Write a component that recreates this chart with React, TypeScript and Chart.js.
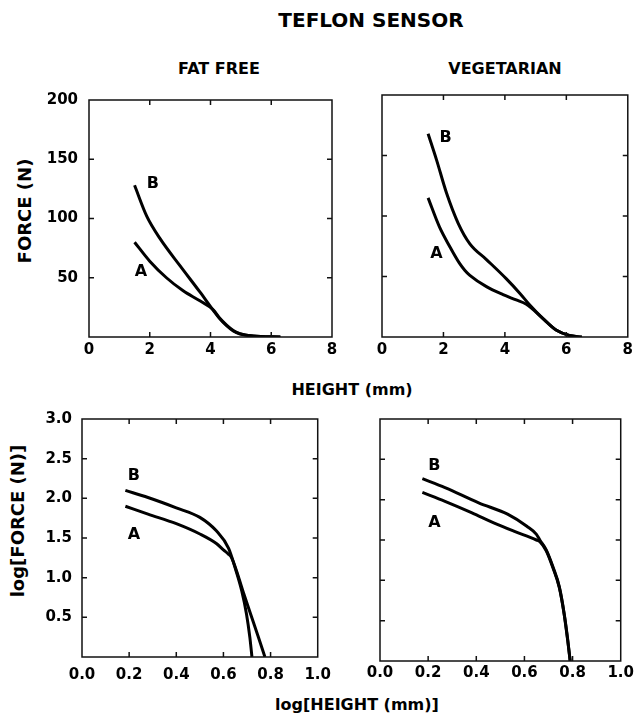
import React, { useEffect, useRef } from "react";
import { Chart, registerables } from "chart.js";

Chart.register(...registerables);

const FONT = "'DejaVu Sans', 'Liberation Sans', sans-serif";

// ---- tick labels ----
const heightTicks = [0, 2, 4, 6, 8];
const forceTicks = [0, 50, 100, 150, 200];
const logHeightTicks = [0, 0.2, 0.4, 0.6, 0.8, 1.0];
const logForceTicks = [0, 0.5, 1.0, 1.5, 2.0, 2.5, 3.0];

// ---- FAT FREE, linear (height mm, force N) ----
const fatFreeA_h = [1.5, 2.0, 2.55, 3.1, 3.65, 4.09, 4.3, 4.53, 4.75, 4.97, 5.4, 6.3];
const fatFreeA_f = [80, 64, 50, 39, 30.5, 23, 16, 10, 5.5, 2.8, 0.9, 0];
const fatFreeB_h = [1.5, 1.9, 2.34, 3.0, 3.65, 4.09, 4.3, 4.53, 4.75, 4.97, 5.4, 6.3];
const fatFreeB_f = [128, 102, 83, 60, 38, 22.5, 15.5, 9.5, 5, 2.5, 0.8, 0];

// ---- VEGETARIAN, linear ----
const vegA_h = [1.5, 1.87, 2.2, 2.52, 2.7, 2.86, 3.4, 3.94, 4.37, 4.7, 5.25, 5.68, 6.1, 6.5];
const vegA_f = [115, 91, 75, 61, 55, 51, 41.6, 35, 30.6, 27, 15, 5.5, 1.2, 0];
const vegB_h = [1.5, 1.78, 2.1, 2.48, 2.86, 3.4, 4.05, 4.49, 4.81, 5.25, 5.68, 6.1, 6.5];
const vegB_f = [168, 146, 119, 94, 77, 64, 48, 36, 26.5, 15, 5.5, 1.2, 0];

// ---- FAT FREE, log-log ----
const fatFreeA_logH = [0.184, 0.28, 0.4, 0.5, 0.57, 0.6, 0.62, 0.635, 0.685, 0.712, 0.746, 0.776];
const fatFreeA_logF = [1.9, 1.8, 1.68, 1.55, 1.43, 1.35, 1.3, 1.25, 0.81, 0.57, 0.27, 0];
const fatFreeB_logH = [0.184, 0.28, 0.4, 0.5, 0.57, 0.622, 0.65, 0.678, 0.698, 0.712, 0.721];
const fatFreeB_logF = [2.1, 2.01, 1.88, 1.76, 1.59, 1.37, 1.12, 0.83, 0.54, 0.25, 0];

// ---- VEGETARIAN, log-log ----
const vegA_logH = [0.176, 0.27, 0.38, 0.475, 0.556, 0.65, 0.664, 0.69, 0.718, 0.745, 0.765, 0.78, 0.79];
const vegA_logF = [2.09, 1.98, 1.84, 1.71, 1.61, 1.5, 1.48, 1.37, 1.16, 0.91, 0.58, 0.25, 0];
const vegB_logH = [0.176, 0.27, 0.41, 0.53, 0.61, 0.65, 0.664, 0.69, 0.718, 0.745, 0.765, 0.78, 0.79];
const vegB_logF = [2.26, 2.15, 1.96, 1.82, 1.67, 1.57, 1.5, 1.38, 1.17, 0.92, 0.59, 0.26, 0];

// ---- curve label anchors (data coords) ----
const curveNames = ["A", "B"];
const fatFreeLabelPos = [[1.71, 54.7], [2.1, 129]];
const vegLabelPos = [[1.77, 68.6], [2.07, 165]];
const fatFreeLogLabelPos = [[0.22, 1.54], [0.22, 2.28]];
const vegLogLabelPos = [[0.226, 1.71], [0.226, 2.42]];

type Spec = {
  series: { x: number[]; y: number[] }[];
  labelPos: number[][];
  xTicks: number[];
  yTicks: number[];
  fmt: (v: number) => string;
  showY: boolean;
  box: { left: number; top: number; width: number; height: number };
  yAxisW: number;
  xAxisH: number;
  padTop: number;
  padRight: number;
  xTickPad: number;
  yTickPad: number;
};

function framePlugin(labelPos: number[][]) {
  return {
    id: "frameTicks",
    afterDatasetsDraw(chart: any) {
      const { ctx, chartArea: a, scales } = chart;
      const xs = scales.x;
      const ys = scales.y;
      ctx.save();
      ctx.strokeStyle = "#111";
      ctx.lineWidth = 1.5;
      ctx.strokeRect(a.left, a.top, a.right - a.left, a.bottom - a.top);
      const L = 5;
      ctx.beginPath();
      xs.ticks.forEach((t: any) => {
        if (t.value <= xs.min || t.value >= xs.max) return;
        const p = xs.getPixelForValue(t.value);
        ctx.moveTo(p, a.bottom);
        ctx.lineTo(p, a.bottom - L);
        ctx.moveTo(p, a.top);
        ctx.lineTo(p, a.top + L);
      });
      ys.ticks.forEach((t: any) => {
        if (t.value <= ys.min || t.value >= ys.max) return;
        const p = ys.getPixelForValue(t.value);
        ctx.moveTo(a.left, p);
        ctx.lineTo(a.left + L, p);
        ctx.moveTo(a.right, p);
        ctx.lineTo(a.right - L, p);
      });
      ctx.stroke();
      ctx.fillStyle = "#000";
      ctx.font = `bold 16px ${FONT}`;
      ctx.textAlign = "center";
      ctx.textBaseline = "middle";
      labelPos.forEach((pos, i) => {
        ctx.fillText(curveNames[i], xs.getPixelForValue(pos[0]), ys.getPixelForValue(pos[1]));
      });
      ctx.restore();
    },
  };
}

function Panel({ spec }: { spec: Spec }) {
  const ref = useRef<HTMLCanvasElement | null>(null);
  useEffect(() => {
    if (!ref.current) return;
    const xMin = spec.xTicks[0];
    const xMax = spec.xTicks[spec.xTicks.length - 1];
    const yMin = spec.yTicks[0];
    const yMax = spec.yTicks[spec.yTicks.length - 1];
    const tickFont = { family: FONT, size: 15, weight: "bold" as const };
    const chart = new Chart(ref.current, {
      type: "line",
      data: {
        datasets: spec.series.map((s) => ({
          data: s.x.map((x, i) => ({ x, y: s.y[i] })),
          borderColor: "#000",
          borderWidth: 3,
          pointRadius: 0,
          fill: false,
          cubicInterpolationMode: "monotone" as const,
        })),
      },
      options: {
        animation: false,
        responsive: false,
        maintainAspectRatio: false,
        events: [],
        layout: { padding: { top: spec.padTop, right: spec.padRight, left: 0, bottom: 0 } },
        plugins: { legend: { display: false }, tooltip: { enabled: false }, title: { display: false } },
        scales: {
          x: {
            type: "linear",
            min: xMin,
            max: xMax,
            grid: { display: false, drawTicks: false },
            border: { display: false },
            afterBuildTicks: (s: any) => {
              s.ticks = spec.xTicks.map((v) => ({ value: v }));
            },
            afterFit: (s: any) => {
              s.height = spec.xAxisH;
            },
            ticks: {
              font: tickFont,
              color: "#000",
              padding: spec.xTickPad,
              maxRotation: 0,
              autoSkip: false,
              callback: (v: any) => spec.fmt(Number(v)),
            },
          },
          y: {
            type: "linear",
            min: yMin,
            max: yMax,
            grid: { display: false, drawTicks: false },
            border: { display: false },
            afterBuildTicks: (s: any) => {
              s.ticks = spec.yTicks.map((v) => ({ value: v }));
            },
            afterFit: (s: any) => {
              s.width = spec.yAxisW;
            },
            ticks: {
              display: spec.showY,
              font: tickFont,
              color: "#000",
              padding: spec.yTickPad,
              autoSkip: false,
              callback: (v: any) => (Number(v) === yMin ? "" : spec.fmt(Number(v))),
            },
          },
        },
      } as any,
      plugins: [framePlugin(spec.labelPos)],
    });
    return () => chart.destroy();
  }, [spec]);
  const b = spec.box;
  return (
    <canvas
      ref={ref}
      width={b.width}
      height={b.height}
      style={{ position: "absolute", left: b.left, top: b.top, width: b.width, height: b.height, display: "block" }}
    />
  );
}

const intFmt = (v: number) => String(Math.round(v));
const oneDec = (v: number) => v.toFixed(1);

const specs: Spec[] = [
  {
    series: [
      { x: fatFreeA_h, y: fatFreeA_f },
      { x: fatFreeB_h, y: fatFreeB_f },
    ],
    labelPos: fatFreeLabelPos,
    xTicks: heightTicks,
    yTicks: forceTicks,
    fmt: intFmt,
    showY: true,
    box: { left: 0, top: 80, width: 350, height: 290 },
    yAxisW: 89,
    xAxisH: 33,
    padTop: 15,
    padRight: 18,
    xTickPad: 4,
    yTickPad: 11,
  },
  {
    series: [
      { x: vegA_h, y: vegA_f },
      { x: vegB_h, y: vegB_f },
    ],
    labelPos: vegLabelPos,
    xTicks: heightTicks,
    yTicks: forceTicks,
    fmt: intFmt,
    showY: false,
    box: { left: 345, top: 80, width: 292, height: 290 },
    yAxisW: 37,
    xAxisH: 33,
    padTop: 15,
    padRight: 9,
    xTickPad: 4,
    yTickPad: 11,
  },
  {
    series: [
      { x: fatFreeA_logH, y: fatFreeA_logF },
      { x: fatFreeB_logH, y: fatFreeB_logF },
    ],
    labelPos: fatFreeLogLabelPos,
    xTicks: logHeightTicks,
    yTicks: logForceTicks,
    fmt: oneDec,
    showY: true,
    box: { left: 0, top: 400, width: 340, height: 300 },
    yAxisW: 82,
    xAxisH: 43,
    padTop: 15,
    padRight: 15,
    xTickPad: 9,
    yTickPad: 10,
  },
  {
    series: [
      { x: vegA_logH, y: vegA_logF },
      { x: vegB_logH, y: vegB_logF },
    ],
    labelPos: vegLogLabelPos,
    xTicks: logHeightTicks,
    yTicks: logForceTicks,
    fmt: oneDec,
    showY: false,
    box: { left: 340, top: 400, width: 297, height: 300 },
    yAxisW: 40,
    xAxisH: 39,
    padTop: 19,
    padRight: 11,
    xTickPad: 3,
    yTickPad: 10,
  },
];

const textBase: React.CSSProperties = {
  position: "absolute",
  fontFamily: FONT,
  fontWeight: "bold",
  color: "#000",
  whiteSpace: "nowrap",
  lineHeight: 1,
};

export default function App() {
  return (
    <div style={{ position: "absolute", left: 0, top: 0, width: 637, height: 725, background: "#fff", overflow: "hidden" }}>
      <div style={{ ...textBase, fontSize: 20, left: 371, top: 10, transform: "translateX(-50%)" }}>TEFLON SENSOR</div>
      <div style={{ ...textBase, fontSize: 16, left: 219, top: 61, transform: "translateX(-50%)" }}>FAT FREE</div>
      <div style={{ ...textBase, fontSize: 16, left: 505, top: 61, transform: "translateX(-50%)" }}>VEGETARIAN</div>
      <div style={{ ...textBase, fontSize: 16, left: 352, top: 382, transform: "translateX(-50%)" }}>HEIGHT (mm)</div>
      <div style={{ ...textBase, fontSize: 16, left: 357, top: 697, transform: "translateX(-50%)" }}>log[HEIGHT (mm)]</div>
      <div style={{ ...textBase, fontSize: 18, left: 25, top: 211, transform: "translate(-50%, -50%) rotate(-90deg)" }}>FORCE (N)</div>
      <div style={{ ...textBase, fontSize: 18, left: 18, top: 521, transform: "translate(-50%, -50%) rotate(-90deg)" }}>log[FORCE (N)]</div>
      {specs.map((s, i) => (
        <Panel key={i} spec={s} />
      ))}
    </div>
  );
}
